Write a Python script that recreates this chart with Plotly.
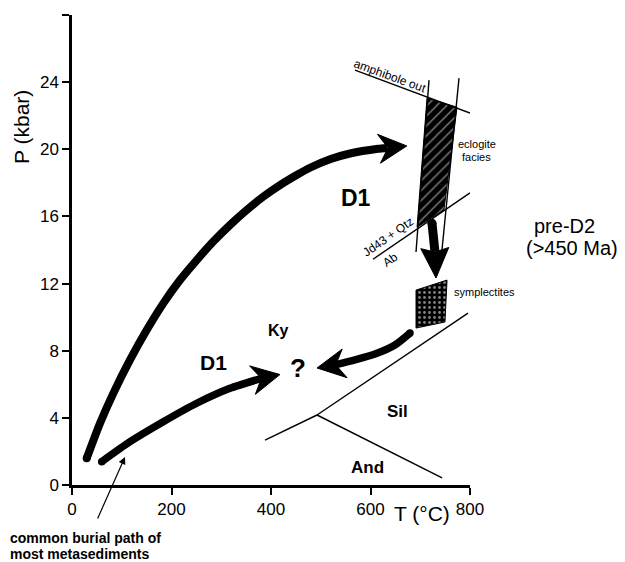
import math
import plotly.graph_objects as go

# ---------------- data (T in °C, P in kbar) ----------------
T_TICKS = [0, 200, 400, 600, 800]
P_TICKS = [0, 4, 8, 12, 16, 20, 24, 28]

# D1 prograde path towards eclogite facies (ends at arrow-head notch)
d1_high_T = [29.5, 56.3, 83.0, 116.6, 150.2, 183.5, 217.1, 250.7, 284.0, 317.6, 351.2,
             384.5, 418.1, 451.7, 478.4, 520, 558.8, 615.1, 633.2]
d1_high_P = [1.59, 3.68, 5.46, 7.45, 9.23, 10.82, 12.21, 13.40, 14.50, 15.49, 16.38,
             17.18, 17.87, 18.47, 18.90, 19.42, 19.75, 20.03, 20.08]
d1_high_tip = (673, 20.2)

# common burial path (D1 lower)
d1_low_T = [59.7, 116.6, 183.5, 250.7, 317.6, 381.3]
d1_low_P = [1.39, 2.58, 3.77, 4.87, 5.76, 6.36]
d1_low_tip = (418, 6.58)

# retrograde path from symplectites towards "?"
retro_T = [679.4, 649.2, 609.0, 568.8, 528.6]
retro_P = [9.05, 8.34, 7.80, 7.45, 7.15]
retro_tip = (492.5, 6.97)

# decompression arrow (eclogite -> symplectites)
decomp_T = [723.6, 729.5]
decomp_P = [15.6, 13.9]
decomp_tip = (731.7, 12.33)

# Al2SiO5 phase boundaries
ky_and_T = [388, 440, 492.5]
ky_and_P = [2.68, 3.43, 4.17]
ky_sil_T = [492.5, 796]
ky_sil_P = [4.17, 10.24]
sil_and_T = [492.5, 744]
sil_and_P = [4.17, 0.42]

# eclogite-facies bounding reactions
amph_out_T = [568.8, 800]
amph_out_P = [24.72, 22.16]
jd_T = [605, 800]
jd_P = [13.45, 17.4]
left_bound_T = [717.6, 691.5]
left_bound_P = [24.12, 13.88]
right_bound_T = [777.9, 743.7]
right_bound_P = [24.24, 14.0]

# fields
eclogite_T = [713.6, 773.9, 747.7, 693.5]
eclogite_P = [23.05, 22.51, 16.4, 15.35]
sympl_T = [691.5, 753.8, 749.7, 691.5]
sympl_P = [11.61, 12.21, 9.71, 9.35]

# burial-path pointer target
pointer_target = (106.5, 1.67)

# ---------------- layout constants ----------------
OFF = 8                      # page body margin
W, H = 625 - OFF, 562 - OFF
ML, MR, MT, MB = 64, 155, 7, 77
X_RANGE = [0, 800]
Y_RANGE = [0, 28]
PLOT_W = W - ML - MR
PLOT_H = H - MT - MB
PX_T = PLOT_W / (X_RANGE[1] - X_RANGE[0])
PX_P = PLOT_H / (Y_RANGE[1] - Y_RANGE[0])
FONT = "Liberation Sans, Arial, Helvetica, sans-serif"


def px_to_paper(x, y):
    # x, y are page pixel positions
    return (x - OFF - ML) / PLOT_W, (H - MB - (y - OFF)) / PLOT_H


def arrow_head(tip, frm, L=28, Wd=14.5, N=19):
    dx = (tip[0] - frm[0]) * PX_T
    dy = (tip[1] - frm[1]) * PX_P
    d = math.hypot(dx, dy)
    ux, uy = dx / d, dy / d
    nx, ny = -uy, ux
    pts = [(0, 0),
           (-L * ux + Wd * nx, -L * uy + Wd * ny),
           (-N * ux, -N * uy),
           (-L * ux - Wd * nx, -L * uy - Wd * ny),
           (0, 0)]
    return ([tip[0] + p[0] / PX_T for p in pts], [tip[1] + p[1] / PX_P for p in pts])


fig = go.Figure()

# fields
fig.add_trace(go.Scatter(
    x=eclogite_T + eclogite_T[:1], y=eclogite_P + eclogite_P[:1], mode="lines",
    fill="toself", fillcolor="black", line=dict(color="black", width=1),
    fillpattern=dict(shape="/", fgcolor="white", bgcolor="black", size=7, solidity=0.2),
    hoverinfo="skip"))
fig.add_trace(go.Scatter(
    x=sympl_T + sympl_T[:1], y=sympl_P + sympl_P[:1], mode="lines",
    fill="toself", fillcolor="black", line=dict(color="black", width=1),
    fillpattern=dict(shape=".", fgcolor="white", bgcolor="black", size=5, solidity=0.25),
    hoverinfo="skip"))

# thin reaction lines
for xs, ys in [(ky_and_T, ky_and_P), (ky_sil_T, ky_sil_P), (sil_and_T, sil_and_P),
               (amph_out_T, amph_out_P), (jd_T, jd_P),
               (left_bound_T, left_bound_P), (right_bound_T, right_bound_P)]:
    fig.add_trace(go.Scatter(x=xs, y=ys, mode="lines",
                             line=dict(color="black", width=1.4), hoverinfo="skip"))

# thick arrows
arrows = [
    (d1_high_T, d1_high_P, d1_high_tip, 8, dict()),
    (d1_low_T, d1_low_P, d1_low_tip, 7.5, dict()),
    (retro_T, retro_P, retro_tip, 7.5, dict()),
    (decomp_T, decomp_P, decomp_tip, 9, dict(L=30, Wd=14, N=26)),
]
for xs, ys, tip, lw, hk in arrows:
    fig.add_trace(go.Scatter(x=xs, y=ys, mode="lines",
                             line=dict(color="black", width=lw, shape="spline", smoothing=0.6),
                             hoverinfo="skip"))
    fig.add_trace(go.Scatter(x=xs[:1], y=ys[:1], mode="markers",
                             marker=dict(color="black", size=lw, line=dict(width=0)),
                             hoverinfo="skip"))
    hx, hy = arrow_head(tip, (xs[-1], ys[-1]), **hk)
    fig.add_trace(go.Scatter(x=hx, y=hy, mode="lines", fill="toself", fillcolor="black",
                             line=dict(color="black", width=1), hoverinfo="skip"))

ann = []


def label(text, x, y, size, ref="data", angle=0, xanchor="center", bold=False):
    t = f"<b>{text}</b>" if bold else text
    d = dict(text=t, showarrow=False, font=dict(family=FONT, size=size, color="black"),
             textangle=angle, xanchor=xanchor, yanchor="middle")
    if ref == "data":
        d.update(x=x, y=y, xref="x", yref="y")
    else:
        px, py = px_to_paper(x, y)
        d.update(x=px, y=py, xref="paper", yref="paper")
    ann.append(d)


label("D1", 571, 17.1, 23, bold=True)
label("D1", 285, 7.27, 21, bold=True)
label("Ky", 416, 9.23, 16, bold=True)
label("?", 454, 6.97, 26, bold=True)
label("Sil", 655, 4.35, 17, bold=True)
label("And", 593, 1.07, 17, bold=True)
label("amphibole out", 390, 76, 12, ref="px", angle=20)
label("Jd43 + Qtz", 388, 237, 12, ref="px", angle=-35)
label("Ab", 390, 260, 12, ref="px", angle=-35)
label("eclogite", 477, 144, 11, ref="px")
label("facies", 477, 157, 11, ref="px")
label("symplectites", 452, 292, 11, ref="px", xanchor="left")
label("pre-D2", 564, 226, 20, ref="px")
label("(>450 Ma)", 572, 248, 20, ref="px")
label("T (°C)", 422, 514, 21, ref="px")
label("P (kbar)", 21, 127, 21, ref="px", angle=-90)
label("common burial path of", 8, 538, 14, ref="px", xanchor="left", bold=True)
label("most metasediments", 8, 554, 14, ref="px", xanchor="left", bold=True)

ann.append(dict(x=pointer_target[0], y=pointer_target[1], xref="x", yref="y",
                text="", showarrow=True, arrowhead=2, arrowsize=1.2, arrowwidth=1.2,
                arrowcolor="black", ax=-28, ay=63, standoff=0))

axis_common = dict(showline=True, linewidth=2.5, linecolor="black", ticks="outside",
                   ticklen=7, tickwidth=2, tickcolor="black", showgrid=False,
                   zeroline=False, tickfont=dict(family=FONT, size=17, color="black"),
                   mirror=False)

fig.update_layout(
    width=W, height=H, margin=dict(l=ML, r=MR, t=MT, b=MB),
    paper_bgcolor="white", plot_bgcolor="white", showlegend=False,
    xaxis=dict(range=X_RANGE, tickvals=T_TICKS, **axis_common),
    yaxis=dict(range=Y_RANGE, tickvals=P_TICKS, **axis_common),
    annotations=ann,
)

fig.write_html("out.html")
